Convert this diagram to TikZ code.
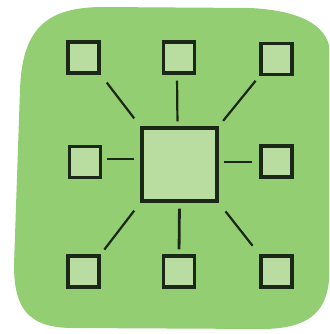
\documentclass[tikz,border=0pt]{standalone}
\begin{document}
\begin{tikzpicture}[x=1pt,y=-1pt,
  sat/.style={draw=boxline,fill=boxfill,line width=3.3pt,minimum size=31pt,inner sep=0pt},
  hub/.style={draw=boxline,fill=boxfill,line width=3.4pt,minimum width=75pt,minimum height=73pt,inner sep=0pt},
  link/.style={draw=boxline,line width=2.2pt,shorten <=8pt,shorten >=8pt}]
\definecolor{bg}{HTML}{93CE72}
\definecolor{boxfill}{HTML}{B9DCA0}
\definecolor{boxline}{HTML}{1C2817}
\useasboundingbox (0,0) rectangle (329,334);
\fill[white] (0,0) rectangle (329,334);
\fill[bg] (20,90) .. controls (22,30) and (45,8) .. (100,7)
  -- (250,8) .. controls (290,10) and (322,20) .. (329,45)
  -- (329,280) .. controls (326,315) and (305,328) .. (265,329)
  -- (70,328) .. controls (28,327) and (14,308) .. (14,265)
  -- cycle;
\node[hub] (c) at (179.5,164.5) {};
\node[sat] (tl) at (83.5,57.5) {};
\node[sat] (tc) at (179,57.5) {};
\node[sat] (tr) at (276.5,59) {};
\node[sat] (ml) at (85,162) {};
\node[sat] (mr) at (276.5,161.5) {};
\node[sat] (bl) at (83.5,271.5) {};
\node[sat] (bc) at (179,271.5) {};
\node[sat] (br) at (276.5,271.5) {};
\draw[link,shorten <=10pt,shorten >=10pt] (c.north west) -- (tl.south east);
\draw[link,shorten <=5pt,shorten >=6pt] ([xshift=-2pt]c.north) -- ([xshift=-2pt]tc.south);
\draw[link,shorten <=7pt,shorten >=6pt] (c.north east) -- (tr.south west);
\draw[link,shorten <=6pt,shorten >=5pt] ([yshift=5.5pt]c.west) -- ([yshift=3pt]ml.east);
\draw[link,shorten <=5pt,shorten >=7pt] ([yshift=2.5pt]c.east) -- ([yshift=-0.5pt]mr.west);
\draw[link,shorten <=10pt,shorten >=6pt] (c.south west) -- (bl.north east);
\draw[link,line width=2.8pt,shorten <=6pt,shorten >=5pt] (c.south) -- (bc.north);
\draw[link,shorten <=11pt,shorten >=11pt] (c.south east) -- (br.north west);
\end{tikzpicture}
\end{document}
